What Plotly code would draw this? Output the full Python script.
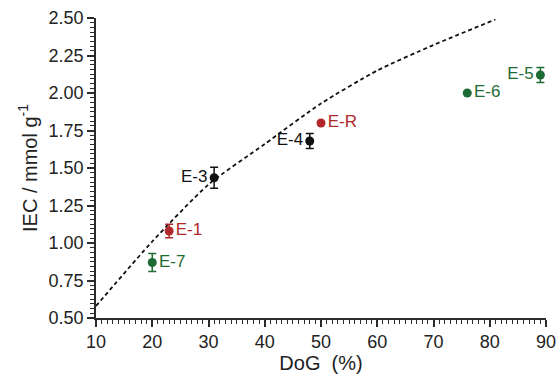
import plotly.graph_objects as go

# Measured samples: degree of grafting (%) vs ion exchange capacity (mmol/g)
black_names = ["E-3", "E-4"]
black_dog = [31, 48]
black_iec = [1.435, 1.68]
black_err = [0.07, 0.05]
black_pos = ["middle left", "middle left"]

red_names = ["E-1", "E-R"]
red_dog = [23, 50]
red_iec = [1.08, 1.80]
red_err = [0.045, 0.0]
red_pos = ["middle right", "middle right"]

green_names = ["E-7", "E-6", "E-5"]
green_dog = [20, 76, 89]
green_iec = [0.87, 2.00, 2.12]
green_err = [0.06, 0.0, 0.05]
green_pos = ["middle right", "middle right", "middle left"]

# Theoretical IEC curve (dashed)
curve_dog = [10, 20, 30, 40, 50, 60, 70, 81]
curve_iec = [0.58, 1.01, 1.39, 1.66, 1.93, 2.15, 2.32, 2.49]

FONT = "Liberation Sans, Arial, sans-serif"
AXIS_COLOR = "#2b2b2b"

fig = go.Figure()

fig.add_trace(go.Scatter(
    x=curve_dog, y=curve_iec, mode="lines",
    line=dict(color="#111111", width=1.8, dash="4px,3px", shape="spline", smoothing=0.6),
    hoverinfo="skip", showlegend=False,
))

for names, xs, ys, errs, pos, color in [
    (black_names, black_dog, black_iec, black_err, black_pos, "#111111"),
    (red_names, red_dog, red_iec, red_err, red_pos, "#b0282a"),
    (green_names, green_dog, green_iec, green_err, green_pos, "#1f6b35"),
]:
    fig.add_trace(go.Scatter(
        x=xs, y=ys, mode="markers+text",
        text=names, textposition=pos,
        textfont=dict(family=FONT, size=17, color=color),
        marker=dict(color=color, size=9),
        error_y=dict(type="data", array=errs, visible=True, color=color,
                     thickness=1.5, width=4),
        cliponaxis=False, showlegend=False,
    ))

fig.update_layout(
    width=558, height=381,
    margin=dict(l=96, r=12, t=18, b=63),
    paper_bgcolor="white", plot_bgcolor="white",
    font=dict(family=FONT, size=18, color="#222222"),
    xaxis=dict(
        range=[10, 90], tick0=10, dtick=10, automargin=False,
        showline=True, linecolor=AXIS_COLOR, linewidth=1.5,
        ticks="outside", ticklen=7, tickwidth=1.5, tickcolor=AXIS_COLOR,
        minor=dict(tick0=10, dtick=1, ticks="outside", ticklen=4,
                   tickwidth=1, tickcolor=AXIS_COLOR, showgrid=False),
        showgrid=False, zeroline=False,
        tickfont=dict(size=18),
        title=dict(text="DoG\u00a0\u00a0(%)", font=dict(size=20), standoff=4),
    ),
    yaxis=dict(
        range=[0.5, 2.5], tick0=0.5, dtick=0.25, tickformat=".2f", automargin=False,
        showline=True, linecolor=AXIS_COLOR, linewidth=1.5,
        ticks="outside", ticklen=7, tickwidth=1.5, tickcolor=AXIS_COLOR,
        minor=dict(tick0=0.5, dtick=0.03125, ticks="outside", ticklen=4,
                   tickwidth=1, tickcolor=AXIS_COLOR, showgrid=False),
        showgrid=False, zeroline=False,
        tickfont=dict(size=18),
        title=dict(text="IEC / mmol g<sup>-1</sup>", font=dict(size=20), standoff=6),
    ),
)

fig.write_html("out.html")
